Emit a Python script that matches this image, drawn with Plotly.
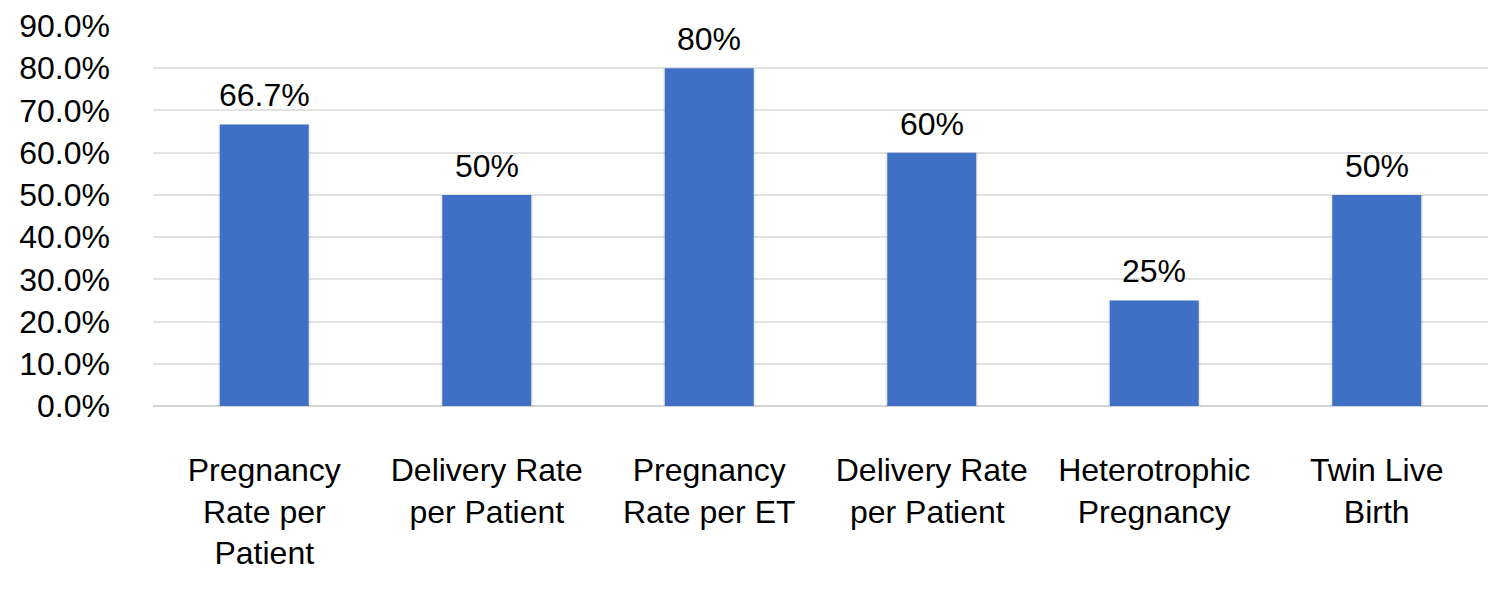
import plotly.graph_objects as go

categories = ["Pregnancy<br>Rate per<br>Patient", "Delivery Rate<br>per Patient",
              "Pregnancy<br>Rate per ET", "Delivery Rate<br>per Patient ",
              "Heterotrophic<br>Pregnancy", "Twin Live<br>Birth"]
values = [0.667, 0.50, 0.80, 0.60, 0.25, 0.50]
value_labels = ["66.7%", "50%", "80%", "60%", "25%", "50%"]
y_ticks = [0.0, 0.1, 0.2, 0.3, 0.4, 0.5, 0.6, 0.7, 0.8, 0.9]

FONT = "Liberation Sans, Arial, sans-serif"

fig = go.Figure()
# soft shadow behind bars
fig.add_trace(go.Bar(
    x=categories, y=values, width=0.415,
    marker=dict(color="rgba(0,0,0,0.07)", line=dict(width=0)),
    hoverinfo="skip",
))
fig.add_trace(go.Bar(
    x=categories, y=values,
    width=0.4,
    marker=dict(color="#4070C6", line=dict(width=0)),
    hoverinfo="skip",
))

for c, v, t in zip(categories, values, value_labels):
    fig.add_annotation(x=c, y=v, text=t, showarrow=False, yanchor="bottom",
                       yshift=9, font=dict(family=FONT, size=32, color="#000000"))

fig.update_layout(
    width=1500, height=597,
    margin=dict(l=145, r=20, t=18, b=199),
    paper_bgcolor="white", plot_bgcolor="white",
    showlegend=False, barmode="overlay",
    font=dict(family=FONT, size=32, color="#000000"),
    xaxis=dict(showgrid=False, showline=False, ticks="", tickfont=dict(size=32),
               ticklabelstandoff=42, automargin=False),
    yaxis=dict(range=[0, 0.9], tickvals=y_ticks, tickformat=".1%",
               showgrid=True, gridcolor="#e3e3e3", gridwidth=1.5,
               zeroline=True, zerolinecolor="#d4d4d4", zerolinewidth=2,
               showline=False, ticks="", ticklabelstandoff=42,
               tickfont=dict(size=32), automargin=False),
)

fig.write_html("out.html")
